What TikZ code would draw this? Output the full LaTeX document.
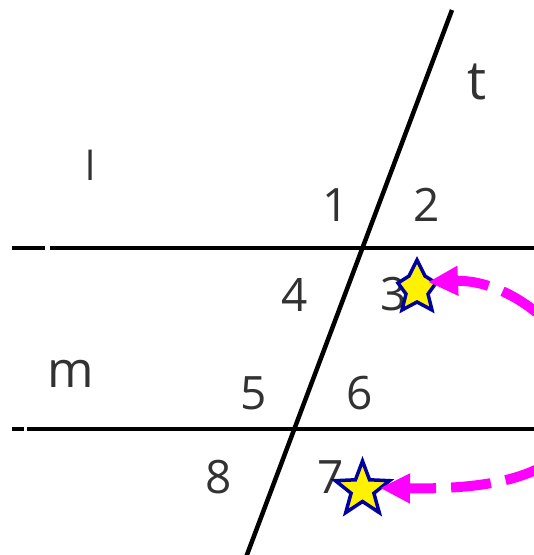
\documentclass[tikz,border=0pt]{standalone}
\usepackage{fontspec}
\setmainfont{Open Sans}
\usetikzlibrary{arrows.meta}
\definecolor{starblue}{RGB}{0,0,160}
\definecolor{mag}{RGB}{255,0,255}
\definecolor{labelgray}{RGB}{50,50,50}
\tikzset{
  geoline/.style={line width=4.5pt, black},
  lbl/.style={text=labelgray, inner sep=0pt, font=\fontsize{46}{50}\selectfont},
  starshape/.style={fill=yellow, draw=starblue, line width=3.5pt, line join=miter},
  magarrow/.style={draw=mag, line width=10pt, {Triangle[length=30pt,width=28pt]}-,
    dash pattern=on 40pt off 15pt}
}
\begin{document}
\begin{tikzpicture}[x=1pt,y=-1pt]
\useasboundingbox (0,0) rectangle (534,555);
\clip (0,0) rectangle (534,555);
% lines l and m (with small gaps near their left ends)
\coordinate (l0) at (12,248);
\coordinate (l1) at (45,248);
\coordinate (l2) at (50,248);
\coordinate (l3) at (540,248);
\coordinate (m0) at (12,429);
\coordinate (m1) at (24,429);
\coordinate (m2) at (27,429);
\coordinate (m3) at (540,429);
\draw[geoline] (l0) -- (l1);
\draw[geoline] (l2) -- (l3);
\draw[geoline] (m0) -- (m1);
\draw[geoline] (m2) -- (m3);
% transversal t
\coordinate (t0) at (452,10);
\coordinate (t1) at (245,560);
\draw[geoline] (t0) -- (t1);
% labels
\node[lbl, font=\fontsize{54}{58}\selectfont] (lt) at (477,82) {t};
\node[lbl, font=\fontsize{40}{44}\selectfont] (ll) at (91,165) {l};
\node[lbl, font=\fontsize{50}{54}\selectfont] (lm) at (71,374) {m};
\node[lbl] (a1) at (336,205) {1};
\node[lbl] (a2) at (427,205) {2};
\node[lbl] (a3) at (394,294) {3};
\node[lbl] (a4) at (295,295) {4};
\node[lbl] (a5) at (254,393) {5};
\node[lbl] (a6) at (360,393) {6};
\node[lbl] (a7) at (331,477) {7};
\node[lbl] (a8) at (219,477) {8};
% star 1 (narrower)
\draw[starshape] (417,260) -- (425,276) -- (436,283) -- (428,294) -- (432,310)
  -- (417,302) -- (402,310) -- (406,294) -- (398,283) -- (409,276) -- cycle;
% star 2 (regular)
\begin{scope}[shift={(362.5,489.5)}, yscale=-1]
\draw[starshape] (90:28.5) -- (126:12) -- (162:28.5) -- (198:12) -- (234:28.5)
  -- (270:12) -- (306:28.5) -- (342:12) -- (18:28.5) -- (54:12) -- cycle;
\end{scope}
% magenta arrows
\coordinate (s1) at (428,282);
\coordinate (e1) at (560,335);
\draw[magarrow, dash phase=7pt] (s1) .. controls (478,280) and (520,290) .. (e1);
\coordinate (s2) at (380,488);
\coordinate (e2) at (550,462);
\draw[magarrow, dash phase=12pt] (s2) .. controls (460,489) and (515,485) .. (e2);
\end{tikzpicture}
\end{document}
